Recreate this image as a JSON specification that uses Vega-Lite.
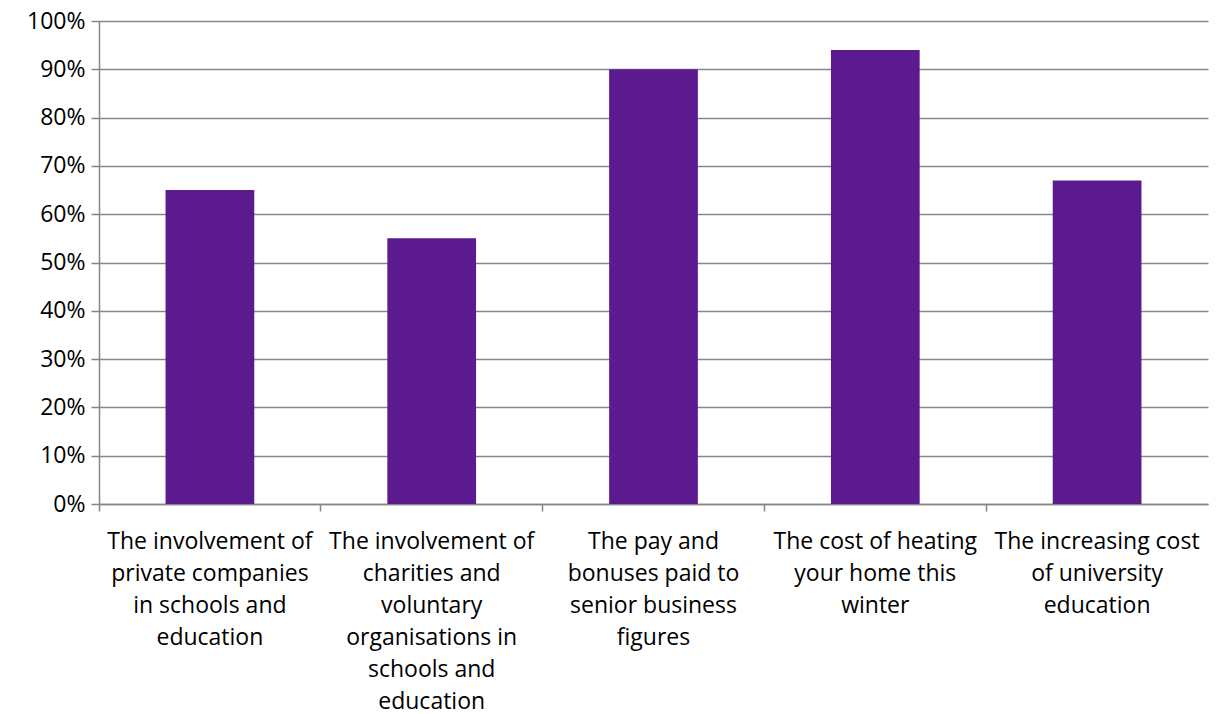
{
  "$schema": "https://vega.github.io/schema/vega-lite/v6.json",
  "autosize": {"type": "none"},
  "width": 1109,
  "height": 483,
  "padding": {"left": 99, "top": 21, "right": 8, "bottom": 210},
  "background": "white",
  "config": {
    "view": {"stroke": null},
    "font": "Open Sans",
    "axis": {"labelFont": "Open Sans", "labelColor": "#000000", "labelFontSize": 23}
  },
  "data": {
    "values": [
      {"cat": "The involvement of|private companies|in schools and|education", "value": 0.65},
      {"cat": "The involvement of|charities and|voluntary|organisations in|schools and|education", "value": 0.55},
      {"cat": "The pay and|bonuses paid to|senior business|figures", "value": 0.90},
      {"cat": "The cost of heating|your home this|winter", "value": 0.94},
      {"cat": "The increasing cost|of university|education", "value": 0.67}
    ]
  },
  "mark": {"type": "bar", "color": "#5B1A8E", "width": {"band": 0.4}},
  "encoding": {
    "x": {
      "field": "cat",
      "type": "nominal",
      "sort": null,
      "title": null,
      "scale": {"paddingInner": 0, "paddingOuter": 0},
      "axis": {
        "labelAngle": 0,
        "labelExpr": "split(datum.label, '|')",
        "labelLineHeight": 32,
        "labelPadding": 19,
        "labelLimit": 300,
        "bandPosition": 0,
        "labelBound": false,
        "tickSize": 7,
        "tickColor": "#868686",
        "domainColor": "#868686",
        "domainWidth": 1.5,
        "tickWidth": 1.5,
        "grid": false
      }
    },
    "y": {
      "field": "value",
      "type": "quantitative",
      "title": null,
      "scale": {"domain": [0, 1], "nice": false},
      "axis": {
        "values": [0, 0.1, 0.2, 0.3, 0.4, 0.5, 0.6, 0.7, 0.8, 0.9, 1],
        "format": ".0%",
        "tickSize": 8,
        "tickColor": "#868686",
        "domainColor": "#868686",
        "domainWidth": 1.5,
        "tickWidth": 1.5,
        "gridColor": "#868686",
        "gridWidth": 1.5,
        "labelPadding": 6
      }
    }
  }
}
